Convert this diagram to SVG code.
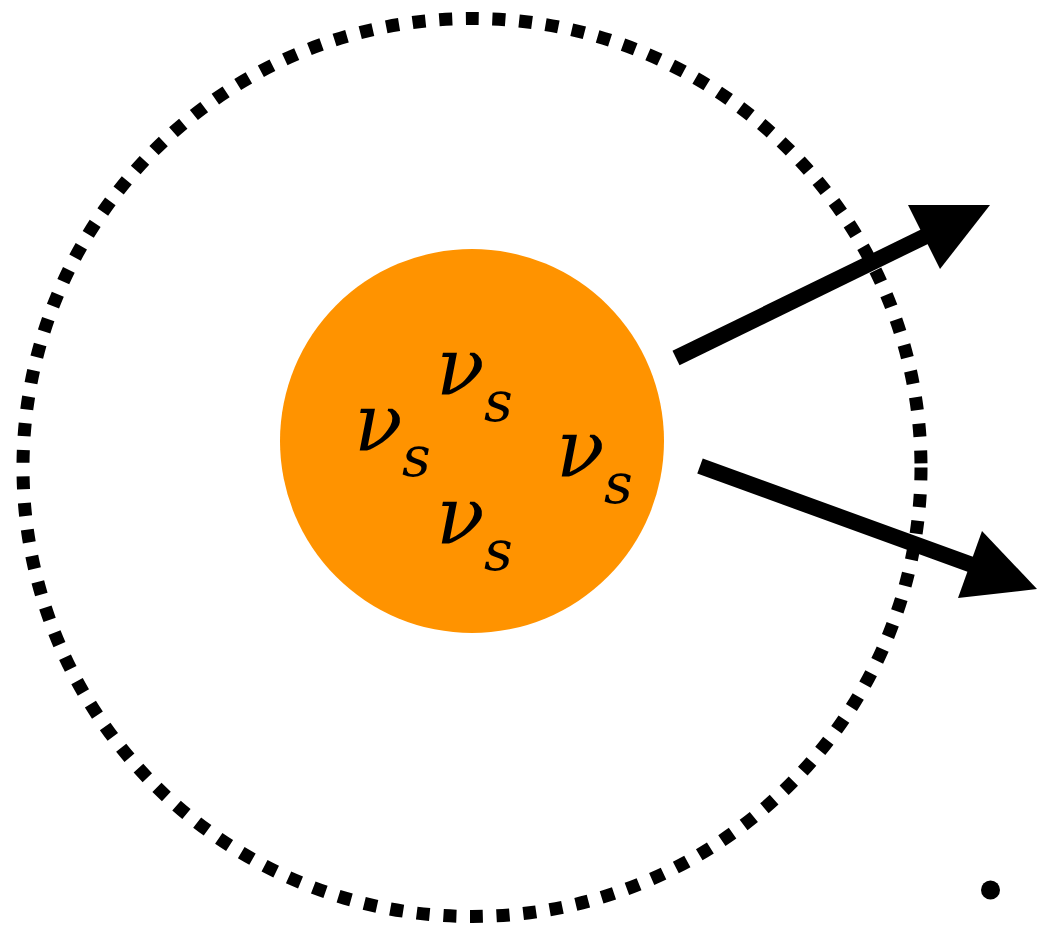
<svg xmlns="http://www.w3.org/2000/svg" width="1038" height="927" viewBox="0 0 1038 927">
<style>
.nu{font-family:"DejaVu Serif",serif;font-style:italic;fill:#000}
.big{font-size:80px}
.sub{font-size:56px}
.shaft{stroke:#000;stroke-width:16;fill:none}
</style>
<rect width="1038" height="927" fill="#fff"/>
<g id="boundary">
<circle cx="472" cy="467.5" r="449" fill="none" stroke="#000" stroke-width="13" stroke-dasharray="13 13.7"/>
</g>
<g id="core">
<circle cx="472" cy="441" r="192" fill="#FF9300"/>
<text class="nu"><tspan class="big" x="436" y="395">ν</tspan><tspan class="sub" x="484" y="421">s</tspan></text>
<text class="nu"><tspan class="big" x="354" y="451">ν</tspan><tspan class="sub" x="402" y="476">s</tspan></text>
<text class="nu"><tspan class="big" x="556" y="477">ν</tspan><tspan class="sub" x="604" y="503">s</tspan></text>
<text class="nu"><tspan class="big" x="436" y="544">ν</tspan><tspan class="sub" x="484" y="570">s</tspan></text>
</g>
<g id="connectors">
<line class="shaft" x1="676" y1="358" x2="928" y2="235"/>
<polygon points="908,205 990,205 940,269" fill="#000"/>
<line class="shaft" x1="700" y1="466" x2="975" y2="566"/>
<polygon points="982,531 1037,589 958,598" fill="#000"/>
</g>
<g id="dot">
<circle cx="990.5" cy="890" r="9.5" fill="#000"/>
</g>
</svg>
